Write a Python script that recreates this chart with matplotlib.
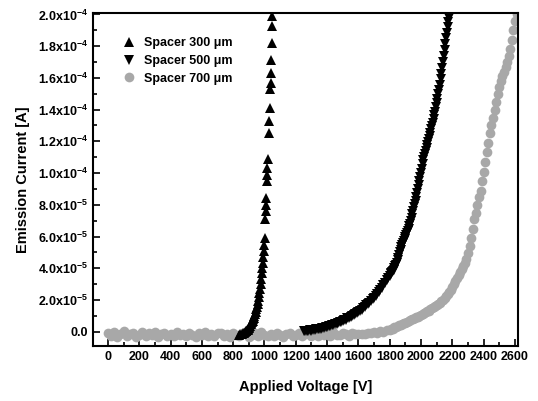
import numpy as np
import matplotlib.pyplot as plt
from matplotlib import font_manager
from matplotlib.ticker import MultipleLocator, FuncFormatter

# --- data (current in uA) ---
v300 = [835, 845, 855, 862, 868, 874, 880, 884, 888, 892, 896, 900, 904, 908,
        912, 916, 920, 924, 928, 932, 936, 940, 944, 948, 952, 956, 960, 964, 968, 972,
        976, 980, 984, 987, 990, 993, 996, 999, 1002, 1005, 1007, 1009, 1012, 1015, 1017,
        1019, 1022, 1026, 1029, 1032, 1036, 1039, 1041, 1044, 1046, 1048, 1050]
i300 = [-1.8, -1.5, -1.2, -0.8, -0.5, -0.2, 0.2, 0.5, 0.9, 1.4, 2.0, 2.6, 3.2,
        3.9, 4.6, 5.4, 6.2, 7.1, 8.0, 9.0, 10.1, 11.3, 12.7, 14.2, 15.8, 17.6, 19.6, 21.8,
        24.2, 27.0, 30.0, 33.4, 37.0, 40.0, 43.5, 47.0, 51.0, 55.0, 59.0, 71.0, 76.0, 80.0,
        84.0, 95.0, 99.0, 103.0, 109.0, 125.0, 133.0, 141.0, 153.0, 157.0, 163.0, 171.0,
        182.0, 193.0, 199.0]

v500 = list(range(1250, 1801, 10)) + list(range(1805, 2186, 5))
i500 = [0.3, 0.2, 0.6, 0.5, 0.9, 0.8, 1.2, 1.1, 1.6, 1.5,
        2.0, 1.9, 2.4, 2.5, 2.9, 3.0, 3.5, 3.6, 4.1, 4.3,
        4.8, 5.0, 5.6, 5.9, 6.4, 6.8, 7.4, 7.7, 8.4, 8.6,
        9.4, 9.8, 10.6, 11.2, 11.9, 12.6, 13.4, 14.0, 14.9, 15.6,
        16.6, 17.4, 18.4, 19.4, 20.4, 21.6, 22.6, 23.8, 25.0, 26.4,
        27.8, 29.4, 31.0, 32.6, 34.0, 35.4,
        36.2, 37.0, 37.6, 38.6, 39.2, 40.0, 41.2, 42.2, 43.6, 45.0,
        46.8, 48.6, 50.4, 51.8, 53.2, 54.4, 55.8, 57.0, 58.4, 59.6,
        61.0, 62.2, 63.6, 65.0, 66.4, 68.0, 70.0, 72.0, 74.2, 76.0,
        78.4, 80.4, 82.6, 85.0, 87.4, 89.8, 92.4, 95.0, 97.6, 100.2,
        102.8, 105.6, 108.0, 110.2, 112.0, 114.0, 115.8, 117.6, 119.4, 121.4,
        123.4, 125.4, 127.6, 129.6, 131.8, 134.0, 136.4, 138.8, 141.4, 144.0,
        146.8, 149.6, 152.4, 155.4, 159.0, 162.6, 166.0, 170.0, 173.8, 177.6,
        181.4, 185.0, 188.6, 192.0, 195.0, 197.6, 200.0]

v700 = list(range(0, 1801, 20)) + list(range(1810, 2611, 10))
i700 = [-1.0, -2.6, -0.2, -3.0, -1.5, 0.2, -2.4, -1.2, -0.6, -3.1,
        -1.8, -0.3, -2.8, -1.0, -2.2, 0.1, -3.0, -1.4, -0.5, -2.5,
        -1.1, -2.9, -0.2, -2.0, -1.3, -2.7, -0.6, -1.9, -3.2, -0.9,
        -2.3, -0.4, -2.6, -1.5, -2.9, -1.0, -0.5, -2.4, -1.7, -3.1,
        -0.8, -2.0, -2.8, -0.6, -1.6, -3.0, -2.2, -1.0, -2.6, -0.4,
        -1.8, -2.9, -1.2, -2.4, -0.6, -2.0, -3.1, -1.5, -0.8, -2.6,
        -2.2, -1.0, -2.9, -1.7, -0.5, -2.4, -1.4, -2.8, -0.8, -2.0,
        -1.2, -2.6, -0.4, -1.8, -2.2, -0.8, -1.5, -2.5, -0.6, -1.6, -1.2,
        -1.2, -1.6, -0.6, -1.0, -0.4, -0.8, 0.2, 0.0, 0.9, 1.2,
        1.8, 2.0, 2.8, 3.0, 3.6, 4.2, 4.4, 5.0, 5.6, 5.8,
        6.4, 6.8, 7.2, 7.8, 8.2, 8.6, 9.2, 9.6, 10.2, 10.6,
        11.2, 11.8, 12.2, 13.0, 13.4, 14.2, 14.8, 15.4, 16.2, 16.8,
        17.6, 18.4, 19.2, 20.2, 21.2, 22.4, 23.6, 25.0, 26.6, 28.4,
        30.2, 32.0, 33.8, 35.6, 37.4, 39.6, 41.6, 43.6, 46.0, 49.5,
        54.0, 59.0, 65.0, 71.0, 75.0, 80.0, 85.0, 89.0, 95.0, 101.0,
        107.0, 113.0, 119.0, 125.0, 130.0, 135.0, 140.0, 145.0, 150.0, 154.0,
        158.0, 161.0, 164.0, 167.0, 170.0, 174.0, 178.0, 184.0, 190.0, 196.0,
        200.0]

labels = ["Spacer 300 \u03bcm", "Spacer 500 \u03bcm", "Spacer 700 \u03bcm"]

names = {f.name for f in font_manager.fontManager.ttflist}
tick_font = "Liberation Sans Narrow" if "Liberation Sans Narrow" in names else "Liberation Sans"

plt.rcParams['font.family'] = ['Liberation Sans', 'DejaVu Sans']
plt.rcParams['mathtext.fontset'] = 'custom'
plt.rcParams['mathtext.rm'] = tick_font + ':bold'
plt.rcParams['mathtext.it'] = tick_font + ':bold'
plt.rcParams['mathtext.bf'] = tick_font + ':bold'

fig = plt.figure(figsize=(5.38, 4.01), dpi=100)
ax = fig.add_axes([0.173, 0.137, 0.79, 0.831])

ua = 1e-6
ax.plot(v700, np.array(i700) * ua, 'o', ls='none', color='#a8a8a8', ms=7, mew=0,
        label=labels[2], zorder=2)
ax.plot(v300, np.array(i300) * ua, '^', ls='none', color='black', ms=6.5, mew=0,
        label=labels[0], zorder=3)
ax.plot(v500, np.array(i500) * ua, 'v', ls='none', color='black', ms=6.5, mew=0,
        label=labels[1], zorder=3)

ax.set_xlim(-95, 2620)
ax.set_ylim(-0.9e-5, 2.01e-4)

ax.xaxis.set_major_locator(MultipleLocator(200))
ax.xaxis.set_minor_locator(MultipleLocator(100))
ax.yaxis.set_major_locator(MultipleLocator(2e-5))
ax.yaxis.set_minor_locator(MultipleLocator(1e-5))


def yfmt(val, pos):
    if abs(val) < 1e-9:
        return "0.0"
    if val < 9.5e-5:
        return r"$%.1fx10^{-5}$" % (val / 1e-5)
    return r"$%.1fx10^{-4}$" % (val / 1e-4)


ax.yaxis.set_major_formatter(FuncFormatter(yfmt))
ax.tick_params(which='both', direction='in', top=False, right=False, width=1.2)
ax.tick_params(which='major', length=5, labelsize=9)
ax.tick_params(which='minor', length=3)
for lab in ax.get_xticklabels() + ax.get_yticklabels():
    lab.set_fontfamily(tick_font)
    lab.set_fontweight('bold')
for s in ax.spines.values():
    s.set_linewidth(1.5)

ax.set_xlabel("Applied Voltage [V]", fontsize=10.5, fontweight='bold', labelpad=12)
ax.set_ylabel("Emission Current [A]", fontsize=10.5, fontweight='bold', labelpad=6)

h, l = ax.get_legend_handles_labels()
order = [1, 2, 0]
ax.legend([h[k] for k in order], [l[k] for k in order], loc='upper left',
          bbox_to_anchor=(0.04, 0.96), frameon=False, handletextpad=0.6,
          labelspacing=0.45, prop={'weight': 'bold', 'size': 9}, handlelength=1.2)

fig.savefig("out.png", dpi=100)
